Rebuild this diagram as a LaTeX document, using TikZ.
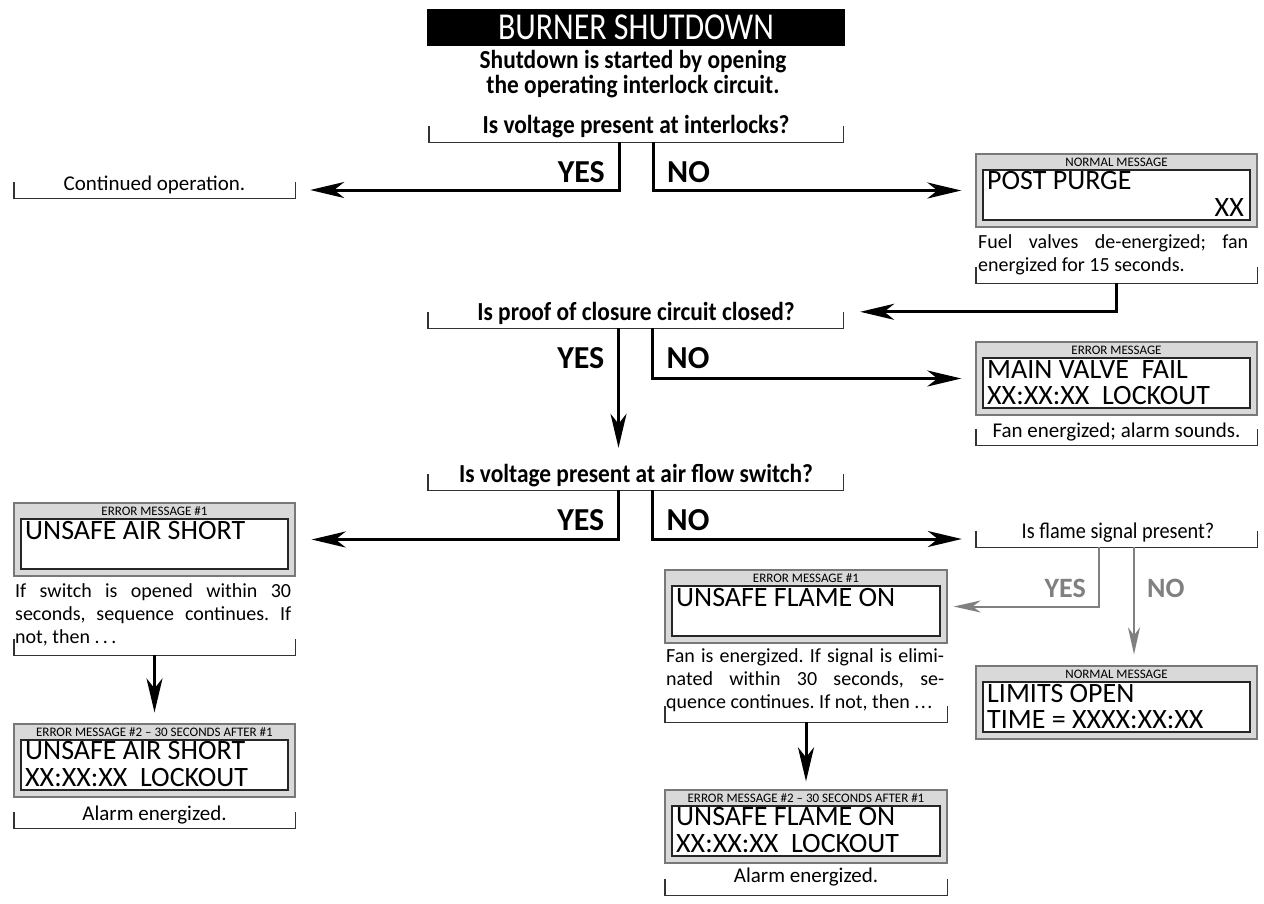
\documentclass[tikz,border=0pt]{standalone}
\usepackage{fontspec}
\setmainfont{Carlito}
\newfontfamily\qfont[FakeStretch=0.9]{Carlito}
\newfontfamily\tfont[FakeStretch=0.84]{Carlito}
\usetikzlibrary{calc}
\usetikzlibrary{positioning}
\usetikzlibrary{arrows.meta}
\definecolor{boxfill}{RGB}{217,217,217}
\definecolor{boxedge}{RGB}{120,120,120}
\definecolor{flowgray}{RGB}{128,128,128}
\frenchspacing

\begin{document}
\begin{tikzpicture}[x=1pt, y=-1pt, inner sep=0pt, >={Stealth[length=34pt,width=16pt,inset=10pt]},
flow/.style={line width=3pt, ->},
gflow/.style={line width=2pt, flowgray, -{Stealth[length=27pt,width=12pt,inset=8pt]}},
brk/.style={minimum width=#1, minimum height=16pt},
brkline/.style={line width=1.4pt, black!80},
outbox/.style={draw=boxedge, fill=boxfill, line width=1.3pt, minimum width=281pt, minimum height=73pt},
inbox/.style={draw=black!85, fill=white, line width=1.3pt, minimum width=267pt, minimum height=50pt},
msglabel/.style={anchor=base, font=\fontsize{13}{13}\selectfont},
msgtext/.style={anchor=base west, font=\fontsize{28}{29}\selectfont},
qtext/.style={anchor=base, font=\qfont\bfseries\fontsize{26}{25}\selectfont},
ftext/.style={anchor=base, font=\qfont\fontsize{22.5}{22.5}\selectfont},
yesno/.style={font=\bfseries\fontsize{32}{32}\selectfont},
gyesno/.style={font=\bfseries\fontsize{28}{28}\selectfont, text=flowgray},
note/.style={anchor=base, font=\fontsize{21}{23}\selectfont},
para/.style={anchor=base west, text width=#1, align=justify, font=\fontsize{20}{23}\selectfont}]

\useasboundingbox (0,0) rectangle (1264,903);

% title
\node[fill=black, text=white, minimum width=418pt, minimum height=37pt, font=\tfont\fontsize{38}{38}\selectfont] (title) at (636,27.5) {BURNER SHUTDOWN};
\node[qtext, align=center] (start) at (633,93) {Shutdown is started by opening\\the operating interlock circuit.};

% first question
\node[brk=414pt] (q1) at (636,134) {};
\draw[brkline] (q1.north west) |- (q1.south east) -- (q1.north east);
\node[qtext] (q1txt) at (636,133) {Is voltage present at interlocks?};
\node[yesno, anchor=base east] (q1yes) at ($(q1.south)+(-31,40)$) {YES};
\node[yesno, anchor=base west] (q1no) at ($(q1.south)+(31,40)$) {NO};

% continued operation
\node[brk=281pt] (contbr) at (154.5,190) {};
\draw[brkline] (contbr.north west) |- (contbr.south east) -- (contbr.north east);
\node[note] (cont) at (154.5,190) {Continued operation.};

% post purge
\node[outbox] (pp) at (1116.5,190.5) {};
\node[inbox] (ppin) at (1116.5,195) {};
\node[msglabel] (pplab) at (1116.5,166) {NORMAL MESSAGE};
\node[msgtext] (pptxt) at (987,189) {POST PURGE};
\node[msgtext, anchor=base east] (ppxx) at (1244,216) {XX};
\node[para=270pt] (ppnote) at (978,248) {Fuel valves de-energized; fan\linebreak energized for 15 seconds.};
\node[brk=281pt] (ppbr) at (1116.5,275) {};
\draw[brkline] (ppbr.north west) |- (ppbr.south east) -- (ppbr.north east);

% arrows out of first question
\draw[flow] ([xshift=-17pt]q1.south) |- ([xshift=15pt]contbr.east);
\draw[flow] ([xshift=17pt]q1.south) |- ([xshift=-14pt]pp.west);

% second question
\node[brk=415pt] (q2) at (635.5,320) {};
\draw[brkline] (q2.north west) |- (q2.south east) -- (q2.north east);
\node[qtext] (q2txt) at (636,320) {Is proof of closure circuit closed?};
\node[yesno, anchor=base east] (q2yes) at ($(q2.south)+(-31,40)$) {YES};
\node[yesno, anchor=base west] (q2no) at ($(q2.south)+(31,40)$) {NO};
\draw[flow] (ppbr.south) |- ([xshift=17pt]q2.north east);

% main valve fail
\node[outbox] (mvf) at (1116.5,378.5) {};
\node[inbox] (mvfin) at (1116.5,383) {};
\node[msglabel] (mvflab) at (1116.5,354) {ERROR MESSAGE};
\node[msgtext] (mvftxt) at (987,378) {MAIN VALVE\ \ FAIL};
\node[msgtext] (mvftxt2) at (987,404) {XX:XX:XX\ \ LOCKOUT};
\node[brk=281pt] (mvfbr) at (1116.5,437) {};
\draw[brkline] (mvfbr.north west) |- (mvfbr.south east) -- (mvfbr.north east);
\node[note] (mvfnote) at (1116.5,437) {Fan energized; alarm sounds.};

% third question
\node[brk=415pt] (q3) at (635.5,482) {};
\draw[brkline] (q3.north west) |- (q3.south east) -- (q3.north east);
\node[qtext] (q3txt) at (636,482) {Is voltage present at air flow switch?};
\node[yesno, anchor=base east] (q3yes) at ($(q3.south)+(-31,40)$) {YES};
\node[yesno, anchor=base west] (q3no) at ($(q3.south)+(31,40)$) {NO};

% arrows out of second question
\draw[flow] ([xshift=-17pt]q2.south) -- ([xshift=-17pt,yshift=26pt]q3.north);
\draw[flow] ([xshift=17pt]q2.south) |- ([xshift=-14pt]mvf.west);

% flame question
\node[brk=281pt] (q4) at (1116.5,539) {};
\draw[brkline] (q4.north west) |- (q4.south east) -- (q4.north east);
\node[ftext] (q4txt) at (1118,538) {Is flame signal present?};
\node[gyesno, anchor=base east] (q4yes) at ($(q4.south)+(-30.5,50)$) {YES};
\node[gyesno, anchor=base west] (q4no) at ($(q4.south)+(30.5,50)$) {NO};

% unsafe air short
\node[outbox] (air1) at (154.5,539.5) {};
\node[inbox] (air1in) at (154.5,544) {};
\node[msglabel] (air1lab) at (154.5,515) {ERROR MESSAGE \#1};
\node[msgtext] (air1txt) at (25,539) {UNSAFE AIR SHORT};
\node[para=276pt] (a1note) at (15,597) {If switch is opened within 30\linebreak seconds, sequence continues. If\linebreak not, then .\,.\,.};
\node[brk=281pt] (a1br) at (154.5,647) {};
\draw[brkline] (a1br.north west) |- (a1br.south east) -- (a1br.north east);

\node[outbox] (air2) at (154.5,760.5) {};
\node[inbox] (air2in) at (154.5,765) {};
\node[msglabel] (air2lab) at (154.5,736) {ERROR MESSAGE \#2 – 30 SECONDS AFTER \#1};
\node[msgtext] (air2txt) at (25,759) {UNSAFE AIR SHORT};
\node[msgtext] (air2txt2) at (25,786) {XX:XX:XX\ \ LOCKOUT};
\node[brk=281pt] (air2br) at (154.5,820) {};
\draw[brkline] (air2br.north west) |- (air2br.south east) -- (air2br.north east);
\node[note] (air2note) at (154.5,820) {Alarm energized.};

% unsafe flame on
\node[outbox, minimum width=282pt] (fl1) at (806,606.5) {};
\node[inbox, minimum width=268pt] (fl1in) at (806,611) {};
\node[msglabel] (fl1lab) at (806,582) {ERROR MESSAGE \#1};
\node[msgtext] (fl1txt) at (676,606) {UNSAFE FLAME ON};
\node[para=278pt] (f1note) at (666,662) {Fan is energized. If signal is elimi-\linebreak nated within 30 seconds, se-\linebreak quence continues. If not, \mbox{then .\kern1.5pt.\kern1.5pt.}};
\node[brk=282pt] (f1br) at (806,714) {};
\draw[brkline] (f1br.north west) |- (f1br.south east) -- (f1br.north east);

\node[outbox, minimum width=282pt] (fl2) at (806,826.5) {};
\node[inbox, minimum width=268pt] (fl2in) at (806,831) {};
\node[msglabel] (fl2lab) at (806,802) {ERROR MESSAGE \#2 – 30 SECONDS AFTER \#1};
\node[msgtext] (fl2txt) at (676,825) {UNSAFE FLAME ON};
\node[msgtext] (fl2txt2) at (676,852) {XX:XX:XX\ \ LOCKOUT};
\node[brk=282pt] (fl2br) at (806,887) {};
\draw[brkline] (fl2br.north west) |- (fl2br.south east) -- (fl2br.north east);
\node[note] (fl2note) at (806,882) {Alarm energized.};

% limits open
\node[outbox] (lim) at (1116.5,702.5) {};
\node[inbox] (limin) at (1116.5,707) {};
\node[msglabel] (limlab) at (1116.5,678) {NORMAL MESSAGE};
\node[msgtext] (limtxt) at (987,702) {LIMITS OPEN};
\node[msgtext] (limtxt2) at (987,728) {TIME = XXXX:XX:XX};

% arrows out of third and flame question
\draw[flow] ([xshift=-17pt]q3.south) |- ([xshift=16pt]air1.east);
\draw[flow] ([xshift=17pt]q3.south) |- ([xshift=-14pt]q4.west);
\draw[gflow] ([xshift=-17.5pt]q4.south) |- ([xshift=6pt]fl1.east);
\draw[gflow] ([xshift=17.5pt]q4.south) -- ([xshift=17.5pt,yshift=11pt]lim.north);

% arrows to second messages
\draw[flow] (a1br.south) -- ([yshift=11pt]air2.north);
\draw[flow] (f1br.south) -- ([yshift=8pt]fl2.north);

\end{tikzpicture}
\end{document}
